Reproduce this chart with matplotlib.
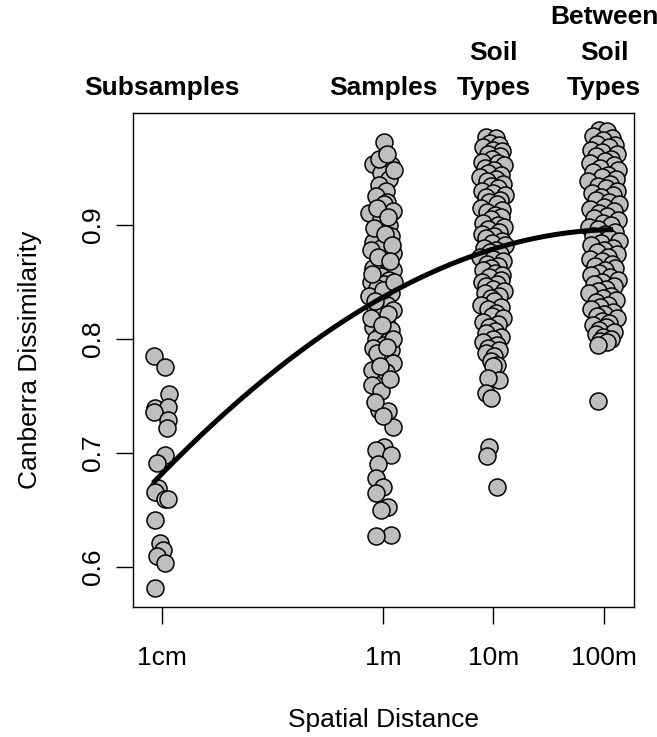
import numpy as np
import matplotlib
matplotlib.use("Agg")
import matplotlib.pyplot as plt
from matplotlib.transforms import blended_transform_factory

plt.rcParams['font.family'] = ['Liberation Sans', 'DejaVu Sans']

# ---- data (distance in metres, Canberra dissimilarity) ----
sub_x = [0.0085, 0.0106, 0.0116, 0.0086, 0.0113, 0.0085, 0.0113, 0.0111, 0.0106, 0.0090,
         0.0092, 0.0086, 0.0106, 0.0113, 0.0086, 0.0096, 0.0102, 0.0090, 0.0106, 0.0086]
sub_y = [0.785, 0.775, 0.752, 0.739, 0.740, 0.736, 0.729, 0.722, 0.698, 0.691,
         0.669, 0.666, 0.660, 0.660, 0.641, 0.621, 0.615, 0.610, 0.604, 0.582]

samp_x = [1.02, 0.81, 1.18, 0.96, 1.13, 0.92, 1.06, 0.86, 1.09, 1.02, 1.23, 0.75, 0.96, 1.13,
          0.86, 1.18, 0.81, 0.96, 0.78, 1.23, 0.92, 1.06, 0.81, 1.23, 0.96, 1.13, 0.78, 1.02,
          0.88, 1.18, 0.75, 0.96, 1.09, 0.84, 1.23, 0.92, 1.06, 0.81, 1.18, 0.96, 0.86, 1.11,
          1.02, 0.81, 1.18, 0.92, 1.06, 1.23, 0.80, 1.06, 0.80, 0.96, 0.92, 1.11, 1.23, 1.02,
          0.86, 1.18, 0.90, 0.86, 1.00, 0.86, 1.11, 0.96, 1.18, 0.86,
          1.25, 0.88, 1.10, 0.83, 1.05, 1.20, 0.90, 1.15, 0.80, 1.00, 1.26, 0.85, 1.12, 0.78,
          0.98, 1.22, 0.88, 1.08, 0.94, 1.15, 0.84, 1.00, 0.92, 1.08]
samp_y = [0.973, 0.953, 0.952, 0.945, 0.940, 0.935, 0.930, 0.925, 0.920, 0.918, 0.912, 0.910,
          0.905, 0.900, 0.895, 0.890, 0.885, 0.880, 0.878, 0.875, 0.870, 0.866, 0.862, 0.860,
          0.855, 0.852, 0.850, 0.848, 0.845, 0.840, 0.838, 0.835, 0.830, 0.828, 0.825, 0.820,
          0.815, 0.810, 0.808, 0.805, 0.800, 0.798, 0.795, 0.792, 0.790, 0.785, 0.780, 0.779,
          0.773, 0.771, 0.760, 0.754, 0.738, 0.737, 0.723, 0.705, 0.703, 0.698, 0.690, 0.678,
          0.670, 0.665, 0.653, 0.650, 0.628, 0.627,
          0.948, 0.915, 0.907, 0.897, 0.892, 0.882, 0.872, 0.868, 0.857, 0.843, 0.850, 0.833,
          0.822, 0.818, 0.812, 0.800, 0.788, 0.793, 0.776, 0.765, 0.745, 0.732, 0.958, 0.962]

soil_x = [8.6, 10.6, 9.3, 11.2, 8.0, 10.0, 12.0, 8.9, 11.5, 9.6, 7.8, 10.9, 12.4, 8.4, 10.2,
          9.0, 11.8, 7.6, 10.5, 8.7, 12.2, 9.4, 11.0, 7.9, 10.0, 12.6, 8.5, 11.4, 9.2, 10.7,
          7.7, 12.0, 8.8, 10.3, 11.7, 9.5, 8.1, 10.9, 12.5, 9.0, 11.2, 7.8, 10.1, 8.6, 11.9,
          9.7, 12.8, 8.2, 10.6, 9.3, 11.4, 7.6, 10.0, 12.2, 8.8, 11.0, 9.5, 8.0, 10.4, 12.0,
          9.1, 11.6, 7.9, 10.8, 8.6, 9.8, 12.4, 8.3, 11.1, 9.4, 10.2, 7.7, 11.8, 8.9, 10.6,
          9.6, 12.1, 8.1, 11.0, 9.2, 10.4, 8.5, 11.6, 9.9, 8.0, 10.8, 9.0, 11.3, 8.6, 10.2,
          9.5, 10.8, 9.9, 11.2, 9.0, 8.5, 9.4, 9.2, 8.8, 10.7]
soil_y = [0.977, 0.976, 0.972, 0.970, 0.968, 0.966, 0.965, 0.962, 0.960, 0.958, 0.955, 0.954,
          0.952, 0.950, 0.948, 0.945, 0.944, 0.942, 0.940, 0.938, 0.936, 0.934, 0.932, 0.930,
          0.928, 0.926, 0.924, 0.922, 0.920, 0.918, 0.915, 0.913, 0.911, 0.909, 0.907, 0.905,
          0.902, 0.900, 0.898, 0.896, 0.894, 0.892, 0.890, 0.888, 0.886, 0.884, 0.882, 0.880,
          0.878, 0.876, 0.874, 0.872, 0.870, 0.868, 0.866, 0.864, 0.862, 0.860, 0.858, 0.856,
          0.854, 0.852, 0.850, 0.848, 0.846, 0.844, 0.842, 0.840, 0.838, 0.836, 0.833, 0.830,
          0.828, 0.826, 0.823, 0.820, 0.818, 0.815, 0.813, 0.810, 0.807, 0.805, 0.802, 0.800,
          0.797, 0.795, 0.792, 0.790, 0.788, 0.785, 0.781, 0.777, 0.776, 0.764, 0.766, 0.753,
          0.748, 0.705, 0.697, 0.670]

betw_x = [90, 106, 80, 118, 98, 86, 125, 110, 76, 95, 130, 84, 115, 102, 74, 122, 92, 135,
          80, 108, 96, 128, 72, 114, 88, 104, 132, 78, 120, 94, 84, 112, 138, 100, 75, 124,
          90, 106, 82, 134, 97, 116, 73, 88, 126, 103, 80, 111, 136, 93, 77, 120, 99, 86, 130,
          108, 74, 95, 117, 83, 127, 102, 90, 76, 113, 133, 96, 81, 122, 105, 88, 73, 115, 98,
          128, 84, 109, 92, 77, 120, 101, 86, 131, 95, 112, 79, 104, 90, 124, 84, 98, 116, 92,
          106, 88, 88]
betw_y = [0.983, 0.982, 0.978, 0.976, 0.974, 0.971, 0.970, 0.968, 0.966, 0.964, 0.962, 0.960,
          0.958, 0.956, 0.954, 0.952, 0.950, 0.948, 0.946, 0.944, 0.942, 0.940, 0.938, 0.936,
          0.934, 0.932, 0.930, 0.928, 0.926, 0.924, 0.922, 0.920, 0.918, 0.916, 0.914, 0.912,
          0.910, 0.908, 0.906, 0.904, 0.902, 0.900, 0.898, 0.896, 0.894, 0.892, 0.890, 0.888,
          0.886, 0.884, 0.882, 0.880, 0.878, 0.876, 0.874, 0.872, 0.870, 0.868, 0.866, 0.864,
          0.862, 0.860, 0.858, 0.856, 0.854, 0.852, 0.850, 0.848, 0.846, 0.844, 0.842, 0.840,
          0.838, 0.836, 0.834, 0.832, 0.830, 0.828, 0.826, 0.824, 0.822, 0.820, 0.818, 0.816,
          0.814, 0.812, 0.810, 0.808, 0.806, 0.804, 0.802, 0.800, 0.798, 0.797, 0.795, 0.746]

# fitted trend at several distances
curve_x = [0.0083, 0.0625, 0.0771, 0.218, 0.731, 1.426, 4.04, 11.46, 40.0, 120.5]
curve_y = [0.674, 0.753, 0.762, 0.795, 0.830, 0.845, 0.865, 0.880, 0.892, 0.896]

tick_pos = [0.01, 1, 10, 100]
tick_labels = ['1cm', '1m', '10m', '100m']
y_ticks = [0.6, 0.7, 0.8, 0.9]
group_pos = [0.01, 1, 10, 100]
group_titles = ['Subsamples', 'Samples', 'Soil\nTypes', 'Between\nSoil\nTypes']

# ---- figure ----
W, H = 657, 737
fig = plt.figure(figsize=(W / 100, H / 100), dpi=100)
L, R, T, B = 133, 634, 113, 607
ax = fig.add_axes([L / W, 1 - B / H, (R - L) / W, (B - T) / H])

FS = 19
all_x = np.concatenate([sub_x, samp_x, soil_x, betw_x])
all_y = np.concatenate([sub_y, samp_y, soil_y, betw_y])
ax.scatter(all_x, all_y, s=150, c='#BEBEBE', edgecolors='black', linewidths=1.1, zorder=2)

lx = np.log10(curve_x)
coef = np.polyfit(lx, curve_y, 3)
xx = np.linspace(lx.min(), lx.max(), 300)
ax.plot(10 ** xx, np.polyval(coef, xx), color='black', lw=3.6, zorder=3,
        solid_capstyle='butt')

ax.set_xscale('log')
ax.set_xlim(0.00547, 186.8)
ax.set_ylim(0.565, 0.998)
ax.set_xticks(tick_pos)
ax.set_xticklabels(tick_labels)
ax.minorticks_off()
ax.set_yticks(y_ticks)
ax.set_yticklabels([f'{v:.1f}' for v in y_ticks], rotation=90, va='center')
ax.tick_params(axis='both', direction='out', length=12, width=1.0, labelsize=FS)
ax.tick_params(axis='x', pad=16)
ax.tick_params(axis='y', pad=8)
for s in ax.spines.values():
    s.set_linewidth(1.0)

fig.text((L + R) / 2 / W, 1 - 720 / H, 'Spatial Distance', ha='center', va='center', fontsize=FS)
fig.text(30 / W, 1 - (T + B) / 2 / H, 'Canberra Dissimilarity', ha='center', va='center',
         rotation=90, fontsize=FS)

tr = blended_transform_factory(ax.transData, fig.transFigure)
base_px = [95, 60, 24]
for xp, title in zip(group_pos, group_titles):
    lines = title.split('\n')[::-1]
    for i, line in enumerate(lines):
        ax.text(xp, 1 - base_px[i] / H, line, transform=tr, ha='center', va='baseline',
                fontsize=FS, fontweight='bold', clip_on=False)

fig.savefig('out.png', dpi=100)
